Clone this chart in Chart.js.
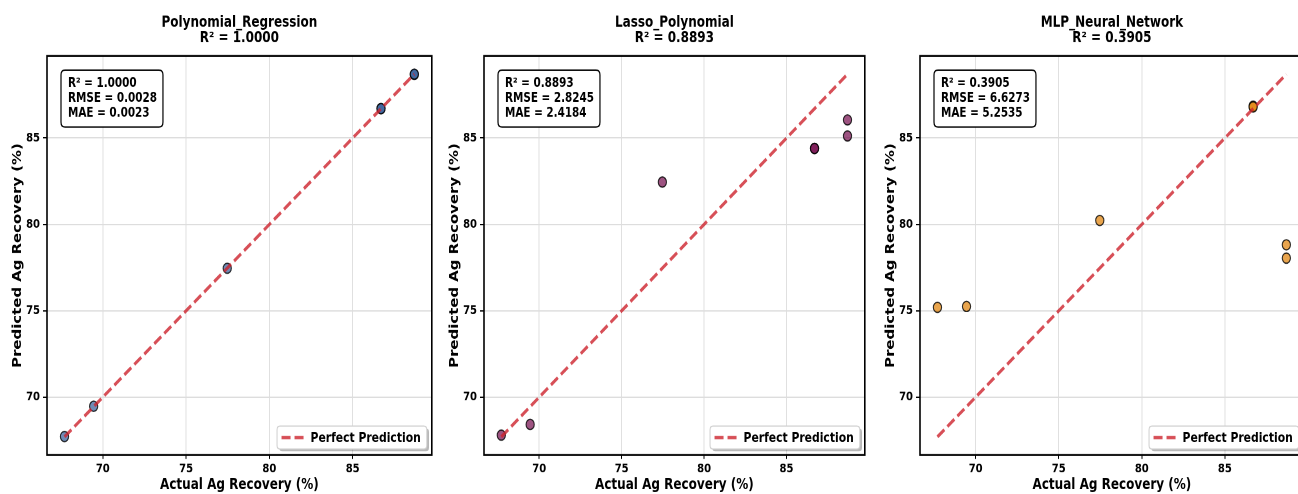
<!DOCTYPE html>
<html><head><meta charset="utf-8">
<script src="https://cdn.jsdelivr.net/npm/chart.js@4.4.0/dist/chart.umd.min.js"></script>
<style>
html,body{margin:0;padding:0;width:1298px;height:494px;overflow:hidden;background:#fff;}
.panel{position:absolute;top:0;transform-origin:0 0;}
</style></head><body>
<div id="p0" class="panel"><canvas id="c0"></canvas></div>
<div id="p1" class="panel"><canvas id="c1"></canvas></div>
<div id="p2" class="panel"><canvas id="c2"></canvas></div>
<script>
// ---- data ----
const actual    = [67.7, 69.45, 77.47, 86.7, 86.7, 88.7, 88.7];
const predPoly  = [67.72, 69.47, 77.46, 86.71, 86.7, 88.68, 88.7];
const predLasso = [67.8, 68.42, 82.45, 84.4, 84.4, 86.05, 85.12];
const predMLP   = [75.2, 75.25, 80.23, 86.85, 86.8, 78.82, 78.05];
const modelNames = ['Polynomial_Regression', 'Lasso_Polynomial', 'MLP_Neural_Network'];
const r2Values   = ['1.0000', '0.8893', '0.3905'];
const rmseValues = ['0.0028', '2.8245', '6.6273'];
const maeValues  = ['0.0023', '2.4184', '5.2535'];
const axisTicks  = [70, 75, 80, 85];
const axisMin = 66.65, axisMax = 89.75;
const diagonal = [67.7, 88.7];
const xTitle = 'Actual Ag Recovery (%)';
const yTitle = 'Predicted Ag Recovery (%)';
const legendLabel = 'Perfect Prediction';

// ---- style / layout ----
const preds = [predPoly, predLasso, predMLP];
const pointColors = ['rgba(50,90,150,0.7)', 'rgba(115,10,75,0.7)', 'rgba(225,130,10,0.72)'];
const lineColor = 'rgba(205,35,45,0.8)';
const SY = 494 / 398;
const CH = 398;
const panelLeft = [0, 437, 873];
const panelWidth = [437, 433, 436];
const FONT = 'DejaVu Sans';
Chart.defaults.font.family = FONT;

function roundRect(ctx, x, y, w, h, r) {
  ctx.beginPath();
  ctx.moveTo(x + r, y);
  ctx.lineTo(x + w - r, y); ctx.quadraticCurveTo(x + w, y, x + w, y + r);
  ctx.lineTo(x + w, y + h - r); ctx.quadraticCurveTo(x + w, y + h, x + w - r, y + h);
  ctx.lineTo(x + r, y + h); ctx.quadraticCurveTo(x, y + h, x, y + h - r);
  ctx.lineTo(x, y + r); ctx.quadraticCurveTo(x, y, x + r, y);
  ctx.closePath();
}

const decor = {
  id: 'decor',
  afterDatasetsDraw(chart, args, o) {
    const {ctx, chartArea: a} = chart;
    ctx.save();
    // frame
    ctx.strokeStyle = '#000'; ctx.lineWidth = 1.6;
    ctx.strokeRect(a.left, a.top, a.right - a.left, a.bottom - a.top);
    // stats box
    const lines = ['R\u00b2 = ' + o.r2, 'RMSE = ' + o.rmse, 'MAE = ' + o.mae];
    ctx.font = 'bold 10.4px "' + FONT + '"';
    let mw = 0; lines.forEach(t => mw = Math.max(mw, ctx.measureText(t).width));
    const bx = a.left + 14, by = a.top + 11.3, bw = mw + 13, bh = 45.9;
    roundRect(ctx, bx, by, bw, bh, 4);
    ctx.fillStyle = '#fff'; ctx.fill();
    ctx.strokeStyle = '#000'; ctx.lineWidth = 1.2; ctx.stroke();
    ctx.fillStyle = '#000'; ctx.textAlign = 'left'; ctx.textBaseline = 'alphabetic';
    lines.forEach((t, i) => ctx.fillText(t, a.left + 21, a.top + 24.7 + i * 12.1));
    // legend
    ctx.font = 'bold 10.8px "' + FONT + '"';
    const tw = ctx.measureText(legendLabel).width;
    const lw = 33.5 + tw + 6, lh = 18.5;
    const lx = a.right - 5 - lw, ly = a.bottom - 4.8 - lh;
    roundRect(ctx, lx + 2.2, ly + 1.8, lw, lh, 3);
    ctx.fillStyle = 'rgba(0,0,0,0.28)'; ctx.fill();
    roundRect(ctx, lx, ly, lw, lh, 3);
    ctx.fillStyle = '#fff'; ctx.fill();
    ctx.strokeStyle = '#cfcfcf'; ctx.lineWidth = 1; ctx.stroke();
    const cy = ly + lh / 2;
    ctx.beginPath(); ctx.setLineDash([9, 4]);
    ctx.moveTo(lx + 4.5, cy); ctx.lineTo(lx + 29.5, cy);
    ctx.strokeStyle = lineColor; ctx.lineWidth = 2.8; ctx.stroke();
    ctx.setLineDash([]);
    ctx.fillStyle = '#000'; ctx.textBaseline = 'middle';
    ctx.fillText(legendLabel, lx + 33.5, cy + 0.5);
    // titles
    ctx.font = 'bold 12px "' + FONT + '"';
    ctx.textAlign = 'center'; ctx.textBaseline = 'alphabetic';
    const cx = (a.left + a.right) / 2;
    ctx.fillText(o.name, cx, 21.3);
    ctx.fillText('R\u00b2 = ' + o.r2, cx, 33.8);
    ctx.restore();
  }
};

for (let i = 0; i < 3; i++) {
  const div = document.getElementById('p' + i);
  const cv = document.getElementById('c' + i);
  div.style.left = panelLeft[i] + 'px';
  div.style.width = panelWidth[i] + 'px';
  div.style.height = CH + 'px';
  div.style.transform = 'scaleY(' + SY + ')';
  cv.width = panelWidth[i]; cv.height = CH;
  cv.style.width = panelWidth[i] + 'px'; cv.style.height = CH + 'px';
  const pts = actual.map((x, k) => ({x: x, y: preds[i][k]}));
  const tickFont = {family: FONT, size: 10, weight: 'bold'};
  const titleFont = {family: FONT, size: 12, weight: 'bold'};
  new Chart(cv, {
    type: 'scatter',
    data: {
      datasets: [
        {
          type: 'line', label: legendLabel, order: 0,
          data: diagonal.map(v => ({x: v, y: v})),
          borderColor: lineColor, borderWidth: 2.7, borderDash: [9, 4],
          pointRadius: 0, fill: false
        },
        {
          type: 'scatter', label: modelNames[i], order: 1,
          data: pts,
          backgroundColor: pointColors[i], borderColor: 'rgba(0,0,0,0.8)', borderWidth: 1.1,
          pointRadius: 4.1, pointHoverRadius: 4.1
        }
      ]
    },
    options: {
      responsive: false, animation: false, devicePixelRatio: 2,
      layout: {padding: {top: 56 / SY, left: 0, right: 0, bottom: 0}},
      plugins: {
        legend: {display: false}, tooltip: {enabled: false},
        decor: {name: modelNames[i], r2: r2Values[i], rmse: rmseValues[i], mae: maeValues[i]}
      },
      scales: {
        x: {
          type: 'linear', min: axisMin, max: axisMax,
          afterBuildTicks: s => { s.ticks = axisTicks.map(v => ({value: v})); },
          afterFit: s => { s.height = 39 / SY; },
          ticks: {font: tickFont, color: '#000', padding: 2, maxRotation: 0},
          grid: {color: '#dddddd', lineWidth: 0.9, tickColor: '#000', tickLength: 3.2, tickWidth: 1},
          border: {display: false},
          title: {display: true, text: xTitle, font: titleFont, color: '#000', padding: {top: 0, bottom: 0}}
        },
        y: {
          type: 'linear', min: axisMin, max: axisMax,
          afterBuildTicks: s => { s.ticks = axisTicks.map(v => ({value: v})); },
          afterFit: s => { s.width = 47; },
          ticks: {font: tickFont, color: '#000', padding: 3},
          grid: {color: '#dddddd', lineWidth: 0.9, tickColor: '#000', tickLength: 4, tickWidth: 1},
          border: {display: false},
          title: {display: true, text: yTitle, font: titleFont, color: '#000', padding: {top: 10.8, bottom: 0}}
        }
      }
    },
    plugins: [decor]
  });
}
</script>
</body></html>
